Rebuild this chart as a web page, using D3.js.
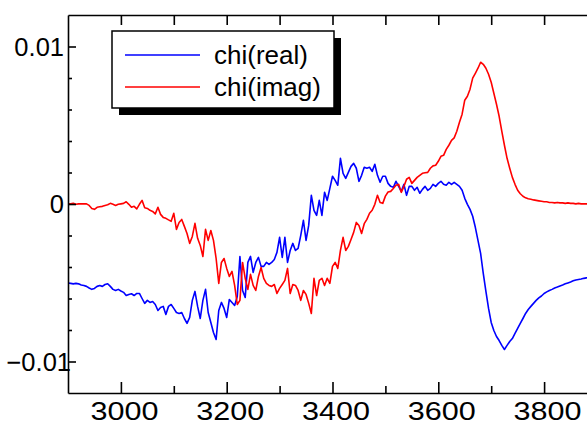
<!DOCTYPE html>
<html>
<head>
<meta charset="utf-8">
<script src="https://cdn.jsdelivr.net/npm/d3@7"></script>
<style>
  body { margin: 0; background: #fff; }
  svg { display: block; font-family: 'Liberation Sans', Arial, sans-serif; }
</style>
</head>
<body>
<svg id="chart" width="587" height="423"></svg>
<script>
// sampling grid of the field axis (G) and value unit of the series
var fieldStart = 2900;
var fieldStep = 5;
var chiUnit = 1e-3;

// one value per 5 G, in units of 1e-3
var chiReal = [
  -5.02, -5.04, -5.07, -5.04, -5.07, -5.14, -5.17, -5.23, -5.33, -5.42,
  -5.36, -5.23, -5.17, -5.23, -5.11, -5.06, -5.23, -5.42, -5.49, -5.42,
  -5.52, -5.61, -5.81, -5.74, -5.70, -5.81, -5.68, -5.68, -6.00, -6.31,
  -6.12, -6.25, -6.19, -6.38, -6.76, -6.57, -6.50, -7.01, -6.50, -6.38,
  -6.63, -6.89, -6.95, -6.89, -7.27, -7.58, -7.20, -6.12, -5.55, -6.50,
  -7.27, -6.12, -5.42, -6.89, -7.52, -8.16, -8.60, -6.76, -6.25, -6.63,
  -7.20, -6.06, -6.25, -6.44, -5.87, -3.33, -5.49, -5.93, -3.71, -3.33,
  -4.34, -3.71, -3.39, -3.96, -3.96, -3.71, -3.84, -3.71, -3.52, -3.07,
  -2.12, -3.39, -2.12, -3.71, -2.95, -2.50, -2.95, -2.82, -1.99, -1.04,
  -2.31, -1.36, 0.55, -0.40, -0.72, 0.23, -0.72, 0.74, 0.23, 0.99,
  1.76, 1.50, 1.19, 2.90, 1.95, 1.63, 2.01, 2.39, 2.58, 2.27,
  1.44, 1.82, 2.33, 2.27, 2.33, 2.07, 2.52, 1.82, 1.38, 1.76,
  1.76, 1.31, 1.12, 1.06, 1.44, 1.12, 0.80, 1.25, 0.55, 1.12,
  1.12, 0.87, 1.06, 0.68, 0.93, 1.12, 0.87, 0.99, 1.25, 1.12,
  1.31, 1.44, 1.25, 1.19, 1.38, 1.25, 1.38, 1.25, 1.12, 0.87,
  0.36, -0.02, -0.34, -0.78, -1.48, -2.31, -3.14, -4.41, -5.55, -6.63,
  -7.52, -8.03, -8.41, -8.67, -8.98, -9.24, -8.98, -8.73, -8.54, -8.22,
  -7.90, -7.58, -7.27, -6.95, -6.70, -6.50, -6.31, -6.12, -5.96, -5.84,
  -5.68, -5.58, -5.49, -5.42, -5.33, -5.27, -5.20, -5.14, -5.07, -5.01,
  -4.95, -4.88, -4.82, -4.79, -4.76, -4.72, -4.69, -4.66, -4.63
];

var chiImag = [
  0.01, 0.01, 0.04, -0.02, 0.01, 0.01, 0.01, 0.01, -0.09, -0.28,
  -0.34, -0.21, -0.18, -0.15, -0.09, -0.05, 0.04, -0.02, -0.09, -0.02,
  0.01, 0.04, 0.14, -0.02, -0.21, -0.15, -0.31, -0.02, 0.23, -0.24,
  -0.28, -0.40, -0.47, -0.63, -0.21, -0.66, -0.85, -0.91, -1.01, -1.10,
  -0.59, -1.61, -1.17, -0.98, -1.42, -1.87, -2.50, -2.06, -1.23, -2.18,
  -2.63, -3.33, -1.61, -2.31, -1.68, -2.31, -3.46, -5.04, -3.71, -3.46,
  -4.09, -4.60, -4.28, -5.17, -6.38, -6.12, -3.71, -4.72, -5.42, -4.47,
  -5.17, -5.49, -4.60, -4.03, -4.72, -5.04, -5.17, -5.23, -5.11, -5.68,
  -5.36, -5.11, -4.85, -4.09, -5.68, -5.11, -5.17, -5.49, -6.12, -5.49,
  -5.74, -6.31, -6.95, -4.72, -5.81, -4.85, -4.72, -5.17, -4.72, -5.04,
  -3.96, -3.71, -4.09, -2.95, -2.12, -2.95, -2.69, -2.25, -1.80, -1.17,
  -1.36, -1.87, -1.25, -0.98, -0.59, -0.40, -0.02, 0.55, 0.10, 0.04,
  0.50, 0.76, 0.80, 0.99, 1.19, 1.25, 0.74, 1.12, 1.57, 1.69,
  1.31, 1.50, 1.69, 1.82, 1.95, 1.98, 2.01, 2.27, 2.42, 2.46,
  2.71, 3.03, 3.09, 3.47, 3.73, 4.04, 4.20, 4.62, 5.19, 5.70,
  6.59, 6.84, 7.29, 7.99, 8.30, 8.62, 9.00, 8.87, 8.62, 8.24,
  7.73, 7.03, 6.33, 5.57, 4.62, 3.73, 2.90, 2.27, 1.69, 1.25,
  0.87, 0.65, 0.49, 0.39, 0.33, 0.30, 0.26, 0.23, 0.20, 0.17,
  0.14, 0.14, 0.10, 0.10, 0.07, 0.10, 0.07, 0.07, 0.04, 0.07,
  0.04, 0.04, 0.01, 0.04, 0.01, 0.01, 0.01, 0.01, 0.01
];

var seriesNames = ['chi(real)', 'chi(imag)'];
var seriesColors = ['#0000ff', '#ff0000'];

var xTicks = [3000, 3200, 3400, 3600, 3800];
var xMinorTicks = [3100, 3300, 3500, 3700];
var xTopTicks = [3000, 3100, 3200, 3300, 3400, 3500, 3600, 3700, 3800];
var yTicks = [-0.01, 0, 0.01];
var yTickLabels = ['\u22120.01', '0', '0.01'];
var yMinorTicks = [-0.008, -0.006, -0.004, -0.002, 0.002, 0.004, 0.006, 0.008];

var chartWidth = 587, chartHeight = 423;
var plotLeft = 68, plotTop = 15, plotBottom = 393, plotRight = 597;

var x = d3.scaleLinear().domain([2900, 3900]).range([plotLeft, plotRight]);
var y = d3.scaleLinear().domain([-0.012, 0.012]).range([plotBottom, plotTop]);

var field = chiReal.map(function(_, i) { return fieldStart + i * fieldStep; });

var svg = d3.select('#chart');

svg.append('rect').
  attr('width', chartWidth).
  attr('height', chartHeight).
  attr('fill', '#fff');

svg.append('clipPath').attr('id', 'plot-clip').append('rect').
  attr('x', plotLeft).
  attr('y', plotTop).
  attr('width', plotRight - plotLeft).
  attr('height', plotBottom - plotTop);

var line = d3.line().
  x(function(d, i) { return x(field[i]); }).
  y(function(d) { return y(d * chiUnit); });

svg.append('g').attr('clip-path', 'url(#plot-clip)').
  selectAll('path').data([chiReal, chiImag]).enter().append('path').
  attr('d', line).
  attr('fill', 'none').
  attr('stroke', function(d, i) { return seriesColors[i]; }).
  attr('stroke-width', 1.6).
  attr('stroke-linejoin', 'round');

var styleAxis = function(g) {
  g.selectAll('path, line').attr('stroke', '#000').attr('stroke-width', 1.6);
  g.selectAll('text').attr('fill', '#000').attr('font-size', 24).
    attr('font-family', "'Liberation Sans', Arial, sans-serif");
};

// bottom axis
svg.append('g').attr('transform', 'translate(0,' + plotBottom + ')').
  call(d3.axisBottom(x).tickValues(xMinorTicks).tickSize(-7).tickFormat('')).
  call(function(g) { g.select('.domain').remove(); }).
  call(styleAxis);

svg.append('g').attr('transform', 'translate(0,' + plotBottom + ')').
  call(d3.axisBottom(x).tickValues(xTicks).tickSizeInner(-11).tickSizeOuter(0).tickFormat(d3.format('d'))).
  call(styleAxis).
  call(function(g) {
    g.selectAll('text').
      attr('font-size', 25).
      attr('y', 26.5).
      attr('x', 3).
      attr('dy', null).
      attr('textLength', 68).
      attr('lengthAdjust', 'spacingAndGlyphs');
  });

// top frame
svg.append('g').attr('transform', 'translate(0,' + plotTop + ')').
  call(d3.axisTop(x).tickValues(xTopTicks).tickSizeInner(-10).tickSizeOuter(0).tickFormat('')).
  call(styleAxis);

// left axis
svg.append('g').attr('transform', 'translate(' + plotLeft + ',0)').
  call(d3.axisLeft(y).tickValues(yMinorTicks).tickSize(-4).tickFormat('')).
  call(function(g) { g.select('.domain').remove(); }).
  call(styleAxis);

svg.append('g').attr('transform', 'translate(' + plotLeft + ',0)').
  call(d3.axisLeft(y).tickValues(yTicks).tickSizeInner(-8).tickSizeOuter(0).
    tickFormat(function(d, i) { return yTickLabels[i]; })).
  call(styleAxis).
  call(function(g) {
    g.selectAll('text').
      attr('font-size', 25.5).
      attr('x', function(d) { return d < 0 ? 3 : -4; }).
      attr('dy', '0.35em');
  });

// legend with drop shadow
var legend = svg.append('g').attr('transform', 'translate(112,31)');

legend.append('rect').
  attr('x', 7).attr('y', 7).
  attr('width', 222).attr('height', 77).
  attr('fill', '#000');

legend.append('rect').
  attr('width', 222).attr('height', 77).
  attr('fill', '#fff').
  attr('stroke', '#000').
  attr('stroke-width', 1.5);

var items = legend.selectAll('g.item').data(seriesNames).enter().append('g').
  attr('class', 'item').
  attr('transform', function(d, i) { return 'translate(0,' + (i * 32) + ')'; });

items.append('line').
  attr('x1', 13).attr('x2', 88).
  attr('y1', 24).attr('y2', 24).
  attr('stroke', function(d, i) { return seriesColors[i]; }).
  attr('stroke-width', 1.4);

items.append('text').
  attr('x', 102).
  attr('y', 33).
  attr('font-size', 26).
  attr('fill', '#000').
  text(function(d) { return d; });
</script>
</body>
</html>
